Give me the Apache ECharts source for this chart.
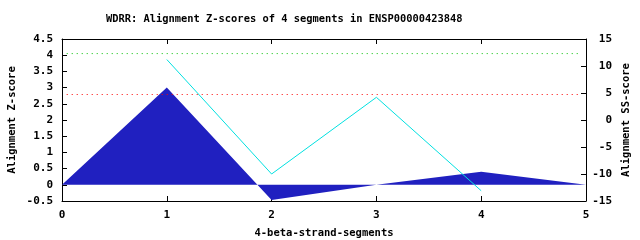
<!DOCTYPE html>
<html><head><meta charset="utf-8">
<script src="https://cdn.jsdelivr.net/npm/echarts@6/dist/echarts.min.js"></script>
<style>html,body{margin:0;padding:0;background:#fff}#c{width:640px;height:240px}</style>
</head><body><div id="c"></div>
<script>
var segX = [0, 1, 2, 3, 4, 5];
var zScores = [0, 3.0, -0.47, 0, 0.40, 0];
var ssX = [1, 2, 3, 4];
var ssScores = [11.2, -10.0, 4.2, -13.1];
var greenLevel = 4.05;
var redLevel = 2.787;
var thresholdX = [0.045, 4.955];
var xTicks = [0, 1, 2, 3, 4, 5];

var F = '"DejaVu Sans Mono", "Liberation Mono", monospace';
var chart = echarts.init(document.getElementById('c'), null, {renderer: 'canvas'});
var axisLine = {show: true, onZero: false, lineStyle: {color: '#000', width: 1}};
var tick = {show: true, inside: true, length: 5, lineStyle: {color: '#000'}};
var lbl = {color: '#000', fontFamily: F, fontWeight: 'bold', fontSize: 10.5};
var tlbl = {color: '#000', fontFamily: F, fontWeight: 'bold', fontSize: 11};
chart.setOption({
  animation: false,
  title: {text: 'WDRR: Alignment Z-scores of 4 segments in ENSP00000423848', left: 101, top: 9,
    textStyle: {fontFamily: F, fontWeight: 'bold', fontSize: 10.4, color: '#000'}},
  grid: {left: 62, right: 54, top: 39, bottom: 39, show: false, containLabel: false, outerBoundsMode: 'none'},
  xAxis: [
    {type: 'value', min: 0, max: 5, interval: 1, position: 'bottom',
     name: '4-beta-strand-segments', nameLocation: 'middle', nameGap: 27, nameMoveOverlap: false,
     nameTextStyle: lbl, axisLine: axisLine, axisTick: tick, splitLine: {show: false},
     axisLabel: Object.assign({margin: 9, formatter: function(v){return xTicks.indexOf(v) >= 0 ? String(v) : '';}}, tlbl)},
    {type: 'value', min: 0, max: 5, interval: 1, position: 'top',
     axisLine: axisLine, axisTick: tick, splitLine: {show: false}, axisLabel: {show: false}}
  ],
  yAxis: [
    {type: 'value', min: -0.5, max: 4.5, interval: 0.5, position: 'left',
     name: 'Alignment Z-score', nameLocation: 'middle', nameGap: 44, nameMoveOverlap: false, nameTextStyle: lbl,
     axisLine: axisLine, axisTick: tick, splitLine: {show: false},
     axisLabel: Object.assign({margin: 9}, tlbl)},
    {type: 'value', min: -15, max: 15, interval: 5, position: 'right',
     name: 'Alignment SS-score', nameLocation: 'middle', nameGap: 35, nameMoveOverlap: false, nameTextStyle: lbl,
     axisLine: axisLine, axisTick: tick, splitLine: {show: false},
     axisLabel: Object.assign({margin: 26, align: 'right'}, tlbl)}
  ],
  series: [
    {type: 'line', xAxisIndex: 0, yAxisIndex: 0, symbol: 'none',
     data: segX.map(function(x, i){return [x, zScores[i]];}),
     lineStyle: {width: 0}, areaStyle: {color: '#2020c0', opacity: 1, origin: 0}, z: 2},
    {type: 'line', xAxisIndex: 0, yAxisIndex: 0, symbol: 'none',
     data: thresholdX.map(function(x){return [x, greenLevel];}),
     lineStyle: {color: '#00c000', width: 1, type: [1, 4]}, z: 3},
    {type: 'line', xAxisIndex: 0, yAxisIndex: 0, symbol: 'none',
     data: thresholdX.map(function(x){return [x, redLevel];}),
     lineStyle: {color: '#ff0000', width: 1, type: [1, 4]}, z: 3},
    {type: 'line', xAxisIndex: 0, yAxisIndex: 1, symbol: 'none',
     data: ssX.map(function(x, i){return [x, ssScores[i]];}),
     lineStyle: {color: '#00e0e0', width: 1}, z: 4}
  ]
});
</script></body></html>
